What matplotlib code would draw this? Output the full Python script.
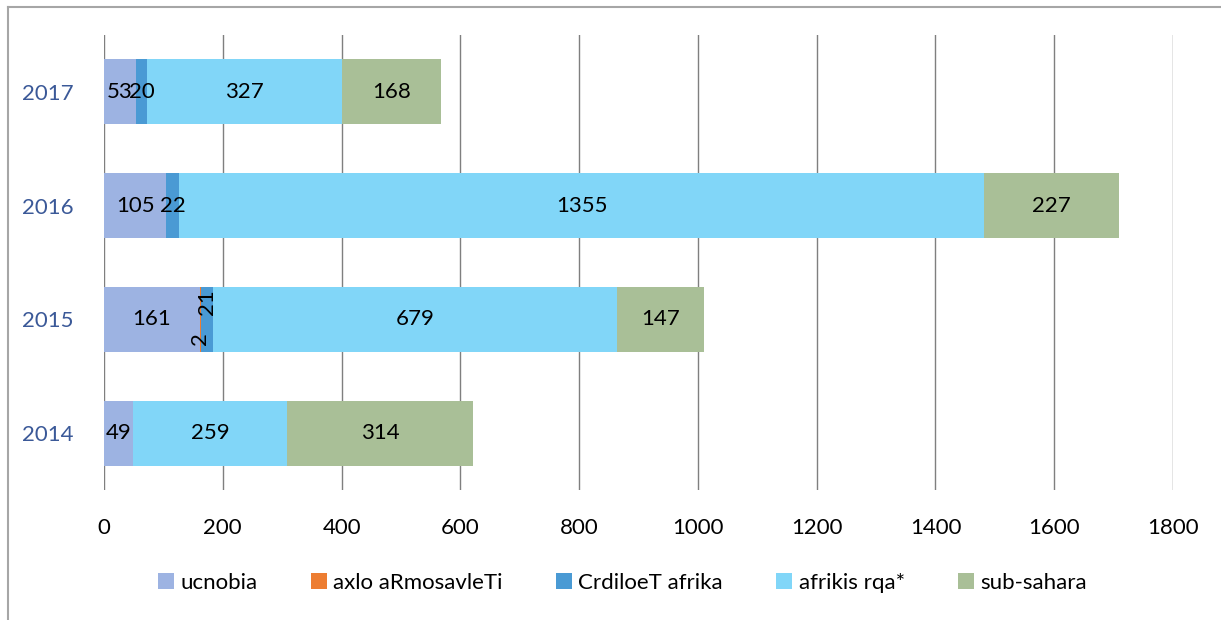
import matplotlib.pyplot as plt
from matplotlib.lines import Line2D

plt.rcParams['font.family'] = ['Lato', 'DejaVu Sans']

years = ['2014', '2015', '2016', '2017']
series = ['ucnobia', 'axlo aRmosavleTi', 'CrdiloeT afrika', 'afrikis rqa*', 'sub-sahara']
ucnobia = [49, 161, 105, 53]
axlo = [0, 2, 0, 0]
crdiloet = [0, 21, 22, 20]
rqa = [259, 679, 1355, 327]
subsahara = [314, 147, 227, 168]
values = [ucnobia, axlo, crdiloet, rqa, subsahara]
colors = ['#9DB3E2', '#ED7D31', '#4A9AD4', '#81D6F8', '#A9BF97']

fig = plt.figure(figsize=(12.21, 6.2), dpi=100)
ax = fig.add_axes([0.0852, 0.2097, 0.8755, 0.7338])

y = list(range(len(years)))
left = [0] * len(years)
for name, vals, col in zip(series, values, colors):
    bars = ax.barh(y, vals, left=left, height=0.57, color=col, label=name, zorder=2)
    for i, (b, v) in enumerate(zip(bars, vals)):
        if v == 0:
            continue
        cx = left[i] + v / 2
        if v < 25 and years[i] == '2015':
            dy = -0.17 if v < 5 else 0.15
            ax.text(cx, i + dy, str(v), rotation=90, ha='center', va='center',
                    fontsize=16, zorder=3)
        else:
            ax.text(cx, i, str(v), ha='center', va='center', fontsize=16, zorder=3)
    left = [l + v for l, v in zip(left, vals)]

ax.set_xlim(0, 1800)
ax.set_ylim(-0.5, 3.5)
ax.set_xticks(range(0, 1801, 200))
ax.set_yticks(y)
ax.set_yticklabels(years, color='#3B5998')
ax.tick_params(axis='both', length=0, labelsize=16)
ax.tick_params(axis='x', pad=20)
ax.tick_params(axis='y', pad=22)
ax.grid(axis='x', color='#7F7F7F', linewidth=1, zorder=1)
for s in ax.spines.values():
    s.set_visible(False)

fig.legend(loc='center', bbox_to_anchor=(0.51, 0.06), ncol=5, frameon=False,
           fontsize=16, handlelength=0.7, handleheight=0.7, handletextpad=0.3,
           columnspacing=2.4)

# chart frame (only top and left edges are in view)
fig.add_artist(Line2D([8 / 1221, 1], [1 - 7 / 620] * 2, transform=fig.transFigure,
                      color='#A6A6A6', linewidth=1.5))
fig.add_artist(Line2D([8 / 1221] * 2, [0, 1 - 7 / 620], transform=fig.transFigure,
                      color='#A6A6A6', linewidth=1.5))

fig.savefig('out.png', dpi=100)
